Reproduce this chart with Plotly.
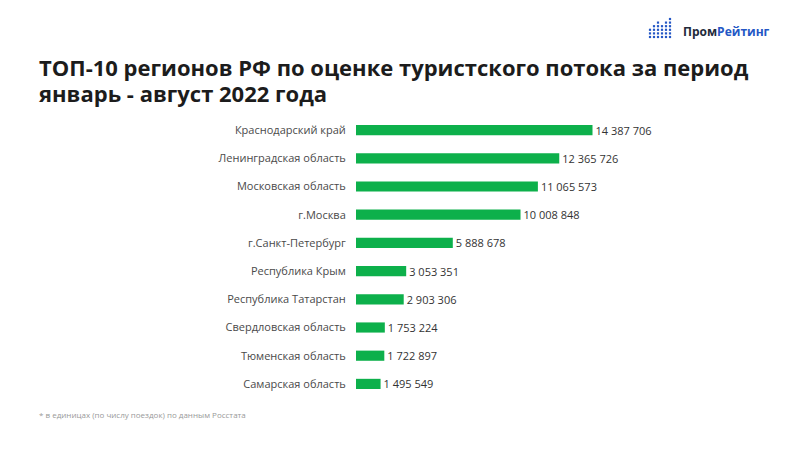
import plotly.graph_objects as go

regions = ["Краснодарский край", "Ленинградская область", "Московская область", "г.Москва",
           "г.Санкт-Петербург", "Республика Крым", "Республика Татарстан",
           "Свердловская область", "Тюменская область", "Самарская область"]
values = [14387706, 12365726, 11065573, 10008848, 5888678, 3053351, 2903306, 1753224, 1722897, 1495549]
value_labels = ["14 387 706", "12 365 726", "11 065 573", "10 008 848", "5 888 678",
                "3 053 351", "2 903 306", "1 753 224", "1 722 897", "1 495 549"]

title_lines = ["ТОП-10 регионов РФ по оценке туристского потока за период",
               "январь - август 2022 года"]
footnote = "* в единицах (по числу поездок) по данным Росстата"

W, H = 800, 450
ml, mr, mt, mb = 356, 181, 116, 52

fig = go.Figure(go.Bar(
    y=regions, x=values, orientation="h",
    marker=dict(color="#0db04b", line=dict(width=0)),
    text=value_labels, textposition="outside", cliponaxis=False, constraintext="none",
    textfont=dict(family="Open Sans, sans-serif", size=11, color="#333333"),
    width=0.36,
))

fig.update_layout(
    width=W, height=H, autosize=False,
    margin=dict(l=ml, r=mr, t=mt, b=mb, pad=0),
    paper_bgcolor="white", plot_bgcolor="white",
    showlegend=False,
    font=dict(family="Open Sans, sans-serif"),
)
fig.update_xaxes(range=[0, 16e6], visible=False, fixedrange=True)
fig.update_yaxes(categoryorder="array", categoryarray=regions, autorange="reversed",
                 showgrid=False, showline=False, zeroline=False,
                 ticks="outside", ticklen=7, tickcolor="rgba(0,0,0,0)",
                 tickfont=dict(family="Open Sans, sans-serif", size=11, color="#4a4a4a"))

annotations = [
    dict(text=title_lines[0], x=37 / W, y=1 - 84 / H, xref="paper", yref="paper",
         xanchor="left", yanchor="bottom", showarrow=False,
         font=dict(family="Open Sans, sans-serif", size=22, color="#1c1c1c", weight=700)),
    dict(text=title_lines[1], x=37 / W, y=1 - 110 / H, xref="paper", yref="paper",
         xanchor="left", yanchor="bottom", showarrow=False,
         font=dict(family="Open Sans, sans-serif", size=22, color="#1c1c1c", weight=700)),
    dict(text=footnote, x=37 / W, y=1 - 414 / H, xref="paper", yref="paper",
         xanchor="left", yanchor="middle", showarrow=False,
         font=dict(family="Open Sans, sans-serif", size=8, color="#999999")),
    dict(text="<b>Пром</b><b><span style='color:#2457c5'>Рейтинг</span></b>",
         x=681 / W, y=1 - 31 / H, xref="paper", yref="paper",
         xanchor="left", yanchor="middle", showarrow=False,
         font=dict(family="Open Sans, sans-serif", size=12, color="#222a3a")),
]
pw, ph = W - ml - mr, H - mt - mb
for a in annotations:
    px = a["x"] * W
    py = (1 - a["y"]) * H
    a["x"] = (px - ml) / pw
    a["y"] = 1 - (py - mt) / ph
fig.update_layout(annotations=annotations)

# logo dots
col_heights = [3, 4, 5, 4, 5, 6]
shapes = []
for i, hcount in enumerate(col_heights):
    cx = 650 + i * 4
    for j in range(hcount):
        cy = 37 - j * 3.6
        x0 = (cx - 1.1 - ml) / pw
        x1 = (cx + 1.1 - ml) / pw
        y0 = 1 - (cy + 1.1 - mt) / ph
        y1 = 1 - (cy - 1.1 - mt) / ph
        shapes.append(dict(type="rect", xref="paper", yref="paper", x0=x0, x1=x1, y0=y0, y1=y1,
                           fillcolor="#2457c5", line=dict(width=0)))
fig.update_layout(shapes=shapes)

fig.write_html("out.html")
